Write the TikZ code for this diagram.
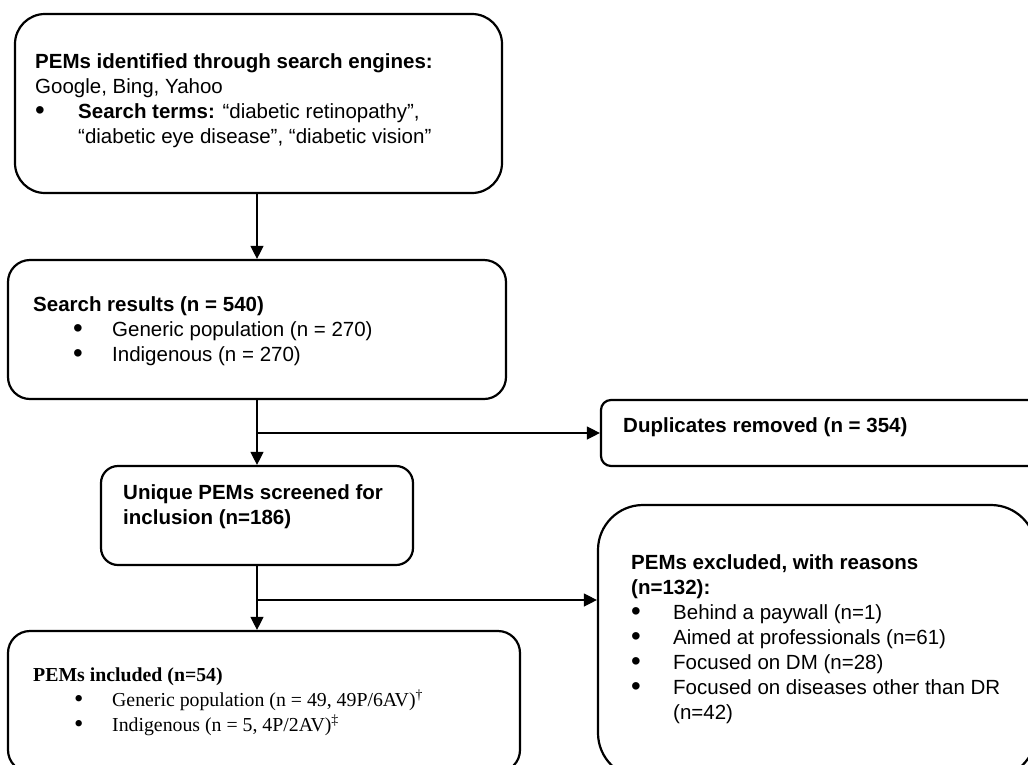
\documentclass[tikz,border=0pt]{standalone}
\usepackage{fontspec}
\setmainfont{Liberation Sans}
\newfontfamily\tnr{Liberation Serif}
\usetikzlibrary{arrows.meta,calc}
\newcommand\blt[1]{\makebox[#1][l]{\raisebox{-0.05em}{\scalebox{1.35}{•}}}}
\begin{document}
\begin{tikzpicture}[x=1pt,y=-1pt,
  box/.style={draw=black,line width=2.2pt,inner sep=0pt},
  txt/.style={anchor=west,align=left,inner sep=0pt,font=\fontsize{20.5}{25}\selectfont},
  txtser/.style={anchor=west,align=left,inner sep=0pt,font=\tnr\fontsize{19.8}{25}\selectfont},
  arr/.style={line width=1.3pt,-{Triangle[width=13pt,length=13pt]}},
  ln/.style={line width=1.3pt}]
\clip (0,0) rectangle (1028,764);
\fill[white] (0,0) rectangle (1028,764);
% boxes
\node[box,rounded corners=30pt,minimum width=487pt,minimum height=179pt] (b1) at (258.5,103.5) {};
\node[box,rounded corners=22pt,minimum width=498pt,minimum height=139pt] (b2) at (257,329.5) {};
\node[box,rounded corners=17pt,minimum width=312pt,minimum height=99pt] (b3) at (257,515.5) {};
\node[box,rounded corners=10pt,minimum width=460pt,minimum height=66pt] (b4) at (831,433) {};
\node[box,rounded corners=45pt,minimum width=438pt,minimum height=273pt] (b5) at (817,641.5) {};
\node[box,rounded corners=22pt,minimum width=512pt,minimum height=141pt] (b6) at (264,701.5) {};
% texts
\node[txt] (t1) at (35,101) {\textbf{PEMs identified through search engines:}\\
Google, Bing, Yahoo\\
\blt{43pt}\textbf{Search terms:} “diabetic retinopathy”,\\
\hspace*{43pt}“diabetic eye disease”, “diabetic vision”};
\node[txt] (t2) at (33,331) {\textbf{Search results (n = 540)}\\
\hspace*{40pt}\blt{39pt}Generic population (n = 270)\\
\hspace*{40pt}\blt{39pt}Indigenous (n = 270)};
\node[txt] (t3) at (123,507) {\textbf{Unique PEMs screened for}\\
\textbf{inclusion (n=186)}};
\node[txt] (t4) at (623,427) {\textbf{Duplicates removed (n = 354)}};
\node[txt] (t5) at (631,639) {\textbf{PEMs excluded, with reasons}\\
\textbf{(n=132):}\\
\blt{42pt}Behind a paywall (n=1)\\
\blt{42pt}Aimed at professionals (n=61)\\
\blt{42pt}Focused on DM (n=28)\\
\blt{42pt}Focused on diseases other than DR\\
\hspace*{42pt}(n=42)};
\node[txtser] (t6) at (33,702) {\textbf{PEMs included (n=54)}\\
\hspace*{41pt}\blt{38pt}Generic population (n = 49, 49P/6AV)\textsuperscript{†}\\
\hspace*{41pt}\blt{38pt}Indigenous (n = 5, 4P/2AV)\textsuperscript{‡}};
% connectors
\coordinate (c1) at (257,433);
\coordinate (c2) at (257,600);
\draw[arr] (b2.north |- b1.south) -- (b2.north);
\draw[arr] (b2.south) -- (b3.north);
\draw[arr] (c1) -- (c1 -| b4.west);
\draw[arr] (b3.south) -- (b3.south |- b6.north);
\draw[arr] (c2) -- (c2 -| b5.west);
\end{tikzpicture}
\end{document}
